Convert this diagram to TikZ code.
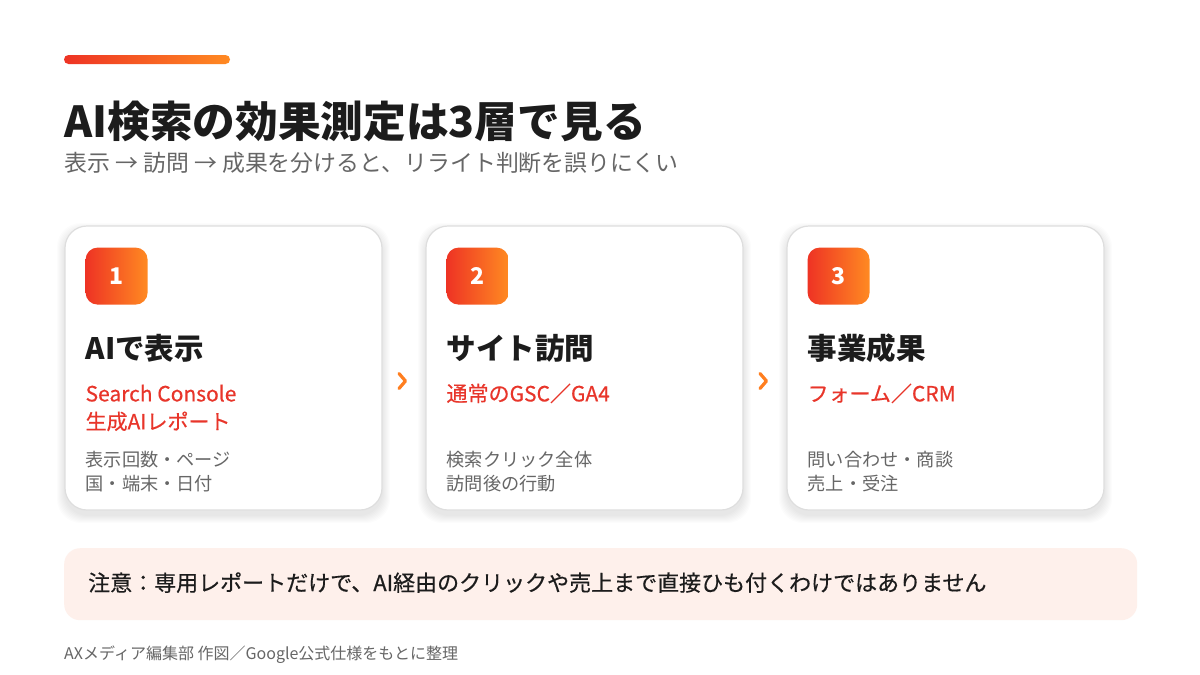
\documentclass[tikz,border=0pt]{standalone}
\usepackage{fontspec}
\setmainfont{Noto Sans CJK JP}
\newfontfamily\medfont[FakeBold=0.5]{Noto Sans CJK JP}
\usetikzlibrary{positioning, calc}

\definecolor{inkdark}{HTML}{1C1C1C}
\definecolor{inkgray}{HTML}{666666}
\definecolor{accred}{HTML}{EE3324}
\definecolor{accorange}{HTML}{FF8A22}
\definecolor{txtred}{HTML}{E8352A}
\definecolor{chevorange}{HTML}{FF7E1F}
\definecolor{cardline}{HTML}{DEDEDE}
\definecolor{notefill}{HTML}{FEF0EB}

\newcommand{\fs}[1]{\fontsize{#1}{#1}\selectfont}

\begin{document}
\begin{tikzpicture}[
    x=1pt, y=-1pt,
    card/.style={draw=cardline, line width=1.2pt, fill=white, rounded corners=22pt,
        minimum width=317pt, minimum height=284pt, inner sep=0pt},
    badge/.style={left color=accred, right color=accorange, rounded corners=12pt,
        minimum width=62pt, minimum height=57pt, inner sep=0pt,
        text=white, font=\fs{23}\bfseries},
    txt/.style={anchor=base west, inner sep=0pt},
    head/.style={txt, text=inkdark, font=\fs{29.5}\bfseries},
    src/.style={txt, text=txtred, font=\fs{21}\medfont},
    meta/.style={txt, text=inkgray, font=\fs{18.2}},
    chev/.style={chevorange, line width=3.2pt, line cap=round, line join=round}
]

\useasboundingbox[fill=white] (0,0) rectangle (1200,675);

% header
\shade[left color=accred, right color=accorange, rounded corners=4.5pt]
    (64,55) rectangle (230,64);
\node[txt, text=inkdark, font=\fs{42.7}\bfseries] (title) at (64,137)
    {AI検索の効果測定は3層で見る};
\node[txt, text=inkgray, font=\fs{22.9}] (subtitle) at (64,171)
    {表示 → 訪問 → 成果を分けると、リライト判断を誤りにくい};

% soft shadows under the cards
\foreach \cx in {65,426,787}
    \foreach \k in {1,...,8}
        \fill[black, opacity=0.010, rounded corners=24pt]
            (\cx-\k,226+5-\k) rectangle (\cx+317+\k,510+5+\k);

% cards
\node[card] (card1) at (223.5,368) {};
\node[card] (card2) at (584.5,368) {};
\node[card] (card3) at (945.5,368) {};

% card 1
\node[badge, anchor=north west] (badge1) at ([shift={(21,22)}]card1.north west) {1};
\node[head] (head1) at ([shift={(21,134)}]card1.north west) {AIで表示};
\node[src] (srcA1) at ([shift={(21,176)}]card1.north west) {Search Console};
\node[src] (srcB1) at ([shift={(21,204)}]card1.north west) {生成AIレポート};
\node[meta] (metaA1) at ([shift={(21,241)}]card1.north west) {表示回数・ページ};
\node[meta] (metaB1) at ([shift={(21,265)}]card1.north west) {国・端末・日付};

% card 2
\node[badge, anchor=north west] (badge2) at ([shift={(21,22)}]card2.north west) {2};
\node[head] (head2) at ([shift={(21,134)}]card2.north west) {サイト訪問};
\node[src] (srcA2) at ([shift={(21,176)}]card2.north west) {通常のGSC／GA4};
\node[meta] (metaA2) at ([shift={(21,241)}]card2.north west) {検索クリック全体};
\node[meta] (metaB2) at ([shift={(21,265)}]card2.north west) {訪問後の行動};

% card 3
\node[badge, anchor=north west] (badge3) at ([shift={(21,22)}]card3.north west) {3};
\node[head] (head3) at ([shift={(21,134)}]card3.north west) {事業成果};
\node[src] (srcA3) at ([shift={(21,176)}]card3.north west) {フォーム／CRM};
\node[meta] (metaA3) at ([shift={(21,241)}]card3.north west) {問い合わせ・商談};
\node[meta] (metaB3) at ([shift={(21,265)}]card3.north west) {売上・受注};

% chevrons between cards
\coordinate (gap12) at ($(card1.east)!0.5!(card2.west)+(-2,13)$);
\coordinate (gap23) at ($(card2.east)!0.5!(card3.west)+(-2,13)$);
\draw[chev] ($(gap12)+(-3,-7.5)$) -- ($(gap12)+(3.5,0)$) -- ($(gap12)+(-3,7.5)$);
\draw[chev] ($(gap23)+(-3,-7.5)$) -- ($(gap23)+(3.5,0)$) -- ($(gap23)+(-3,7.5)$);

% note
\node[fill=notefill, rounded corners=16pt, minimum width=1073pt, minimum height=72pt,
    inner sep=0pt, anchor=north west] (note) at (64,548) {};
\node[txt, text=inkdark, font=\fs{22}\medfont] (notetext) at ([shift={(24,43)}]note.north west)
    {注意：専用レポートだけで、AI経由のクリックや売上まで直接ひも付くわけではありません};

% footer
\node[txt, text=inkgray, font=\fs{16}] (credit) at (64,659)
    {AXメディア編集部 作図／Google公式仕様をもとに整理};

\end{tikzpicture}
\end{document}
